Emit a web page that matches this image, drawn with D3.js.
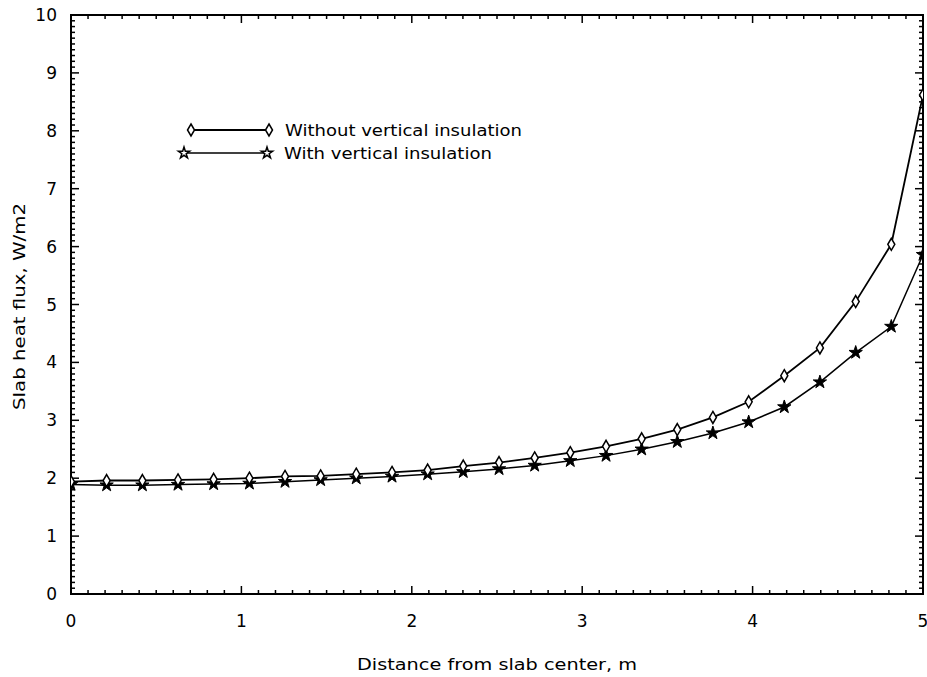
<!DOCTYPE html>
<html>
<head>
<meta charset="utf-8">
<script src="https://cdn.jsdelivr.net/npm/d3@7"></script>
<style>
  body { margin: 0; background: #fff; }
  text { font-family: "DejaVu Sans", sans-serif; fill: #000; }
  .ticklabel { font-size: 17px; }
  .axislabel { font-size: 15px; }
  .legend { font-size: 15px; }
</style>
</head>
<body>
<svg id="chart" width="927" height="677"></svg>
<script>
// node positions along the slab (m)
const distance = [0, 0.209, 0.419, 0.628, 0.837, 1.047, 1.256, 1.465, 1.674, 1.884,
  2.093, 2.302, 2.512, 2.721, 2.930, 3.140, 3.349, 3.558, 3.767, 3.977,
  4.186, 4.395, 4.605, 4.814, 5.0];
const withoutInsulation = [1.94, 1.96, 1.96, 1.97, 1.98, 2.00, 2.03, 2.04, 2.07, 2.10,
  2.14, 2.21, 2.27, 2.35, 2.44, 2.55, 2.68, 2.84, 3.05, 3.32,
  3.77, 4.25, 5.05, 6.04, 8.62];
const withInsulation = [1.89, 1.88, 1.88, 1.89, 1.90, 1.91, 1.94, 1.97, 2.00, 2.03,
  2.07, 2.11, 2.16, 2.22, 2.30, 2.39, 2.50, 2.63, 2.78, 2.97,
  3.23, 3.66, 4.17, 4.62, 5.86];
const xTicks = [0, 1, 2, 3, 4, 5];
const yTicks = [0, 1, 2, 3, 4, 5, 6, 7, 8, 9, 10];
const seriesNames = ["Without vertical insulation", "With vertical insulation"];

const svg = d3.select("#chart");
const plotLeft = 71, plotRight = 923, plotTop = 15, plotBottom = 594;

const xScale = d3.scaleLinear().domain([0, 5]).range([plotLeft, plotRight]);
const yScale = d3.scaleLinear().domain([0, 10]).range([plotBottom, plotTop]);

// every 0.1 gets a tick, integers get the long one
const xTickAll = d3.range(0, 51).map(d => ({v: d / 10, major: d % 10 === 0}));
const yTickAll = d3.range(0, 101).map(d => ({v: d / 10, major: d % 10 === 0}));

svg.append("rect").attr("x", plotLeft).attr("y", plotTop)
  .attr("width", plotRight - plotLeft).attr("height", plotBottom - plotTop)
  .attr("fill", "none").attr("stroke", "#000").attr("stroke-width", 2);

const ticks = svg.append("g").attr("stroke", "#000").attr("stroke-width", 1.5);
[plotBottom, plotTop].forEach(y0 => {
  const dir = y0 === plotBottom ? -1 : 1;
  ticks.append("g").selectAll("line").data(xTickAll).join("line")
    .attr("x1", d => xScale(d.v)).attr("x2", d => xScale(d.v))
    .attr("y1", y0).attr("y2", d => y0 + dir * (d.major ? 8 : 4));
});
[plotLeft, plotRight].forEach(x0 => {
  const dir = x0 === plotLeft ? 1 : -1;
  ticks.append("g").selectAll("line").data(yTickAll).join("line")
    .attr("y1", d => yScale(d.v)).attr("y2", d => yScale(d.v))
    .attr("x1", x0).attr("x2", d => x0 + dir * (d.major ? 8 : 4));
});

svg.append("g").selectAll("text").data(xTicks).join("text")
  .attr("class", "ticklabel").attr("text-anchor", "middle")
  .attr("x", d => xScale(d)).attr("y", 627).text(d => d);
svg.append("g").selectAll("text").data(yTicks).join("text")
  .attr("class", "ticklabel").attr("text-anchor", "end")
  .attr("x", 57).attr("y", d => yScale(d) + 6).text(d => d);

svg.append("text").attr("class", "axislabel").attr("x", 357).attr("y", 670)
  .attr("textLength", 280).attr("lengthAdjust", "spacingAndGlyphs")
  .text("Distance from slab center, m");
svg.append("text").attr("class", "axislabel")
  .attr("transform", "translate(25,410) rotate(-90)")
  .attr("textLength", 207).attr("lengthAdjust", "spacingAndGlyphs")
  .text("Slab heat flux, W/m2");

// markers
const diamond = "M0,-6L3.5,0L0,6L-3.5,0Z";
const star = d3.symbol().type(d3.symbolStar).size(55)();

svg.append("clipPath").attr("id", "plotclip").append("rect")
  .attr("x", plotLeft).attr("y", plotTop)
  .attr("width", plotRight - plotLeft).attr("height", plotBottom - plotTop);
const plot = svg.append("g").attr("clip-path", "url(#plotclip)");

const line = d3.line().x(d => xScale(d[0])).y(d => yScale(d[1]));
const ptsA = distance.map((d, i) => [d, withoutInsulation[i]]);
const ptsB = distance.map((d, i) => [d, withInsulation[i]]);

plot.append("path").attr("d", line(ptsA)).attr("fill", "none")
  .attr("stroke", "#000").attr("stroke-width", 1.8);
plot.append("path").attr("d", line(ptsB)).attr("fill", "none")
  .attr("stroke", "#000").attr("stroke-width", 1.5);

plot.append("g").selectAll("path").data(ptsB).join("path")
  .attr("transform", d => `translate(${xScale(d[0])},${yScale(d[1])})`)
  .attr("d", star).attr("fill", "#000").attr("stroke", "#000").attr("stroke-width", 1);
plot.append("g").selectAll("path").data(ptsA).join("path")
  .attr("transform", d => `translate(${xScale(d[0])},${yScale(d[1])})`)
  .attr("d", diamond).attr("fill", "#fff").attr("stroke", "#000").attr("stroke-width", 1.5);

// legend
const legend = svg.append("g");
legend.append("line").attr("x1", 191).attr("x2", 269).attr("y1", 130).attr("y2", 130)
  .attr("stroke", "#000").attr("stroke-width", 1.8);
[191, 269].forEach(x => legend.append("path").attr("transform", `translate(${x},130)`)
  .attr("d", diamond).attr("fill", "#fff").attr("stroke", "#000").attr("stroke-width", 1.5));
legend.append("text").attr("class", "legend").attr("x", 285).attr("y", 136)
  .attr("textLength", 237).attr("lengthAdjust", "spacingAndGlyphs").text(seriesNames[0]);

legend.append("line").attr("x1", 184).attr("x2", 267).attr("y1", 153).attr("y2", 153)
  .attr("stroke", "#000").attr("stroke-width", 1.5);
[184, 267].forEach(x => legend.append("path").attr("transform", `translate(${x},153)`)
  .attr("d", d3.symbol().type(d3.symbolStar).size(40)())
  .attr("fill", "#fff").attr("stroke", "#000").attr("stroke-width", 1.5));
legend.append("text").attr("class", "legend").attr("x", 284).attr("y", 159)
  .attr("textLength", 208).attr("lengthAdjust", "spacingAndGlyphs").text(seriesNames[1]);
</script>
</body>
</html>
